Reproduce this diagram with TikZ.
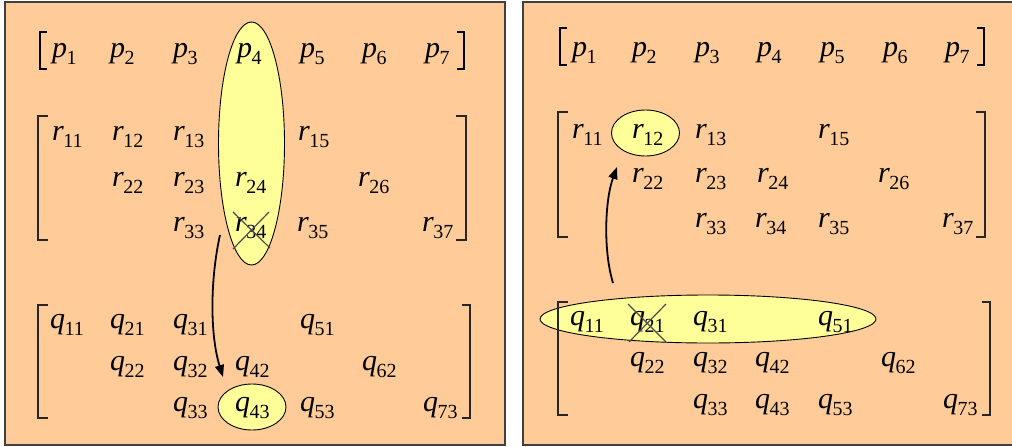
\documentclass[tikz,border=0pt]{standalone}
\usepackage{fontspec}
\setmainfont{Liberation Serif}
\usetikzlibrary{shapes.geometric,arrows.meta}
\definecolor{peach}{HTML}{FFCC99}
\definecolor{hilite}{HTML}{FFFF99}
\newcommand{\ent}[2]{\textit{#1}\kern-0.5pt\raisebox{-7.5pt}{\fontsize{20}{20}\selectfont #2}}
\begin{document}
\begin{tikzpicture}[x=1pt,y=-1pt,
  panel/.style={fill=peach,draw=black!75,line width=1.2pt},
  ent/.style={anchor=base west,inner sep=0pt,font=\fontsize{30}{36}\selectfont},
  hl/.style={ellipse,draw=black,line width=0.9pt,fill=hilite,inner sep=0pt},
  brk/.style={draw=black!85,line width=1.3pt},
  pbrk/.style={draw=black,line width=2pt},
  cross/.style={draw=black!70,line width=1.2pt},
  arr/.style={draw=black,line width=1.8pt,-{Triangle[length=12pt,width=9pt]}}]
\useasboundingbox (0,0) rectangle (1012,447);
\clip (0,0) rectangle (1012,447);
\path[panel] (5,2) rectangle (505,445);
\path[panel] (523,2) rectangle (1030,445);
% highlights
\node[hl,minimum width=66pt,minimum height=243pt] (Lcol) at (251.5,143.5) {};
\node[hl,minimum width=68pt,minimum height=46pt] (Lq43e) at (252,407) {};
\node[hl,minimum width=68pt,minimum height=46pt] (Rr12e) at (645.5,133) {};
\node[hl,minimum width=336pt,minimum height=48pt] (Rrow) at (708,319) {};
% ---------------- left panel ----------------
\foreach \n/\x in {1/52,2/110,3/173,4/237,5/300,6/362,7/425}
  \node[ent] (Lp\n) at (\x,57) {\ent{p}{\n}};
\foreach \n/\x in {11/52,12/112,13/173,15/298}
  \node[ent] (Lr\n) at (\x,140) {\ent{r}{\n}};
\foreach \n/\x in {22/112,23/173,24/235,26/358}
  \node[ent] (Lr\n) at (\x,186) {\ent{r}{\n}};
\foreach \n/\x in {33/173,34/235,35/297,37/422}
  \node[ent] (Lr\n) at (\x,231) {\ent{r}{\n}};
\foreach \n/\x in {11/50,21/110,31/173,51/300}
  \node[ent] (Lq\n) at (\x,328) {\ent{q}{\n}};
\foreach \n/\x in {22/110,32/173,42/235,62/362}
  \node[ent] (Lq\n) at (\x,370) {\ent{q}{\n}};
\foreach \n/\x in {33/173,43/235,53/300,73/423}
  \node[ent] (Lq\n) at (\x,411) {\ent{q}{\n}};
\draw[pbrk] (47,32) -| (40,69) -- (47,69);
\draw[pbrk] (457,32) -| (464,69) -- (457,69);
\draw[brk] (48,116) -| (38,240) -- (48,240);
\draw[brk] (456,116) -| (466,240) -- (456,240);
\draw[brk] (48,305) -| (38,418) -- (48,418);
\draw[brk] (462,305) -| (470,418) -- (462,418);
\draw[cross] (233,212) -- (270,248);
\draw[cross] (269,212) -- (233,249);
\coordinate (La) at (220,235);
\coordinate (Lb) at (223,377);
\draw[arr] (La) .. controls (210,280) and (210,335) .. (Lb);
% ---------------- right panel ----------------
\foreach \n/\x in {1/572,2/632,3/695,4/757,5/820,6/883,7/945}
  \node[ent] (Rp\n) at (\x,56) {\ent{p}{\n}};
\foreach \n/\x in {11/572,12/632,13/695,15/818}
  \node[ent] (Rr\n) at (\x,138) {\ent{r}{\n}};
\foreach \n/\x in {22/632,23/695,24/757,26/878}
  \node[ent] (Rr\n) at (\x,182) {\ent{r}{\n}};
\foreach \n/\x in {33/695,34/755,35/818,37/942}
  \node[ent] (Rr\n) at (\x,227) {\ent{r}{\n}};
\foreach \n/\x in {11/570,21/630,31/693,51/818}
  \node[ent] (Rq\n) at (\x,325) {\ent{q}{\n}};
\foreach \n/\x in {22/630,32/693,42/755,62/881}
  \node[ent] (Rq\n) at (\x,366) {\ent{q}{\n}};
\foreach \n/\x in {33/693,43/755,53/818,73/943}
  \node[ent] (Rq\n) at (\x,408) {\ent{q}{\n}};
\draw[pbrk] (567,28) -| (560,65) -- (567,65);
\draw[pbrk] (977,28) -| (984,65) -- (977,65);
\draw[brk] (568,112) -| (558,237) -- (568,237);
\draw[brk] (976,112) -| (985,237) -- (976,237);
\draw[brk] (568,302) -| (558,415) -- (568,415);
\draw[brk] (982,302) -| (990,415) -- (982,415);
\draw[cross] (628,304) -- (666,342);
\draw[cross] (666,304) -- (629,342);
\coordinate (Ra) at (613,283);
\coordinate (Rb) at (617,167);
\draw[arr] (Ra) .. controls (603,250) and (605,200) .. (Rb);
\end{tikzpicture}
\end{document}
